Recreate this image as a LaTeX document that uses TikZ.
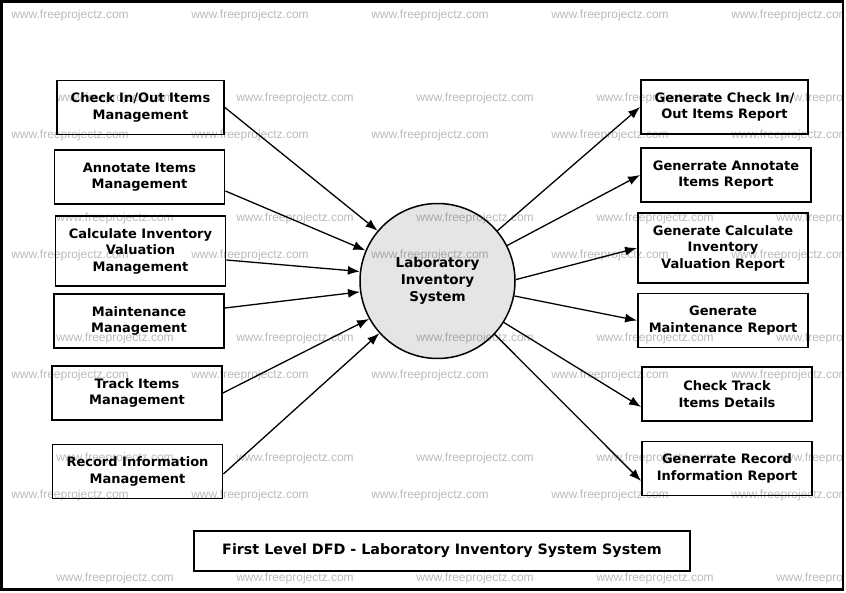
\documentclass[tikz,border=0pt]{standalone}
\usepackage{fontspec}
\setmainfont{DejaVu Sans}
\newfontfamily\wmfont{Liberation Sans}
\usetikzlibrary{arrows.meta}

\tikzset{
  dfdbox/.style={draw,line width=1.8pt,fill=white,align=center,inner sep=0pt,
    minimum width=170pt,minimum height=54pt,
    font=\fontsize{13}{16.5}\selectfont\bfseries},
  tallbox/.style={dfdbox,minimum height=70pt},
  flow/.style={->,line width=1.3pt},
  wmark/.style={text=black,opacity=0.27,inner sep=0pt,font=\wmfont\fontsize{12}{12}\selectfont}
}

\begin{document}
\begin{tikzpicture}[>={Latex[length=12pt,width=9pt]},x=1pt,y=-1pt]

\definecolor{procgray}{rgb}{0.9,0.9,0.9}

\useasboundingbox (0,0) rectangle (846,593);
\draw[line width=2.5pt](1.5,1.5) rectangle (843,589.5);

% external entities
\node[dfdbox,minimum width=167pt] (chk) at (140.5,107.5) {Check In/Out Items\\Management};
\node[dfdbox] (ann) at (139.5,177) {Annotate Items\\Management};
\node[tallbox] (calc) at (140.5,251) {Calculate Inventory\\Valuation\\Management};
\node[dfdbox] (mnt) at (139,321) {Maintenance\\Management};
\node[dfdbox] (trk) at (137,393) {Track Items\\Management};
\node[dfdbox] (rec) at (137.5,471.5) {Record Information\\Management};

\node[dfdbox,minimum width=167pt] (rchk) at (724.5,107) {Generate Check In/\\Out Items Report};
\node[dfdbox] (rann) at (726,175) {Generrate Annotate\\Items Report};
\node[tallbox] (rcalc) at (723,248) {Generate Calculate\\Inventory\\Valuation Report};
\node[dfdbox] (rmnt) at (723,320.5) {Generate\\Maintenance Report};
\node[dfdbox] (rtrk) at (727,394) {Check Track\\Items Details};
\node[dfdbox] (rrec) at (727,468.5) {Generrate Record\\Information Report};

% process
\node[circle,draw,line width=1.5pt,fill=procgray,minimum size=155pt,inner sep=0pt,align=center,
  font=\fontsize{13.5}{17}\selectfont\bfseries] (sys) at (437.5,281) {Laboratory\\Inventory\\System};

\draw[flow](chk.east)--(sys.140);
\draw[flow]([yshift=-14pt]ann.east)--(sys.157);
\draw[flow]([yshift=-9pt]calc.east)--(sys.173);
\draw[flow]([yshift=13pt]mnt.east)--(sys.188);
\draw[flow](trk.east)--(sys.209);
\draw[flow]([yshift=-2.5pt]rec.east)--(sys.222);

\draw[flow](sys.40)--(rchk.west);
\draw[flow](sys.27)--(rann.west);
\draw[flow](sys.1)--(rcalc.west);
\draw[flow](sys.349)--(rmnt.west);
\draw[flow](sys.328)--([yshift=-13pt]rtrk.west);
\draw[flow](sys.317)--([yshift=-12.5pt]rrec.west);

\node[draw,line width=1.8pt,minimum width=496pt,minimum height=40pt,inner sep=0pt,
  font=\fontsize{14.3}{14.3}\selectfont\bfseries] (title) at (442,551)
  {First Level DFD - Laboratory Inventory System System};

% watermark
\begin{scope}
\clip (0,0) rectangle (843,590);
\foreach \y in {15,135,255,375,495}{
  \foreach \x in {70,250,430,610,790}{
    \node[wmark] (wa-\x-\y) at (\x,\y) {www.freeprojectz.com};
}}
\foreach \y in {98,218,338,458,578}{
  \foreach \x in {115,295,475,655,835}{
    \node[wmark] (wb-\x-\y) at (\x,\y) {www.freeprojectz.com};
}}
\end{scope}

\end{tikzpicture}
\end{document}
